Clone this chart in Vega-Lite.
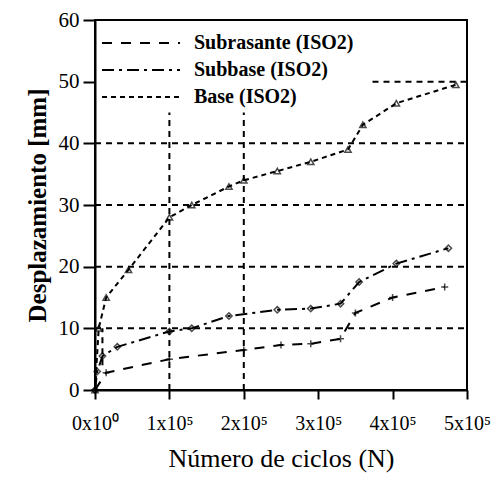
{
  "$schema": "https://vega.github.io/schema/vega-lite/v6.json",
  "autosize": "none",
  "width": 372,
  "height": 370,
  "padding": {"left": 95, "top": 20, "right": 35, "bottom": 90},
  "background": "white",
  "config": {
    "font": "Liberation Serif",
    "view": {"stroke": "black", "strokeWidth": 2},
    "axis": {"labelFont": "Liberation Serif", "titleFont": "Liberation Serif", "labelColor": "black", "titleColor": "black", "domainColor": "black", "tickColor": "black", "domainWidth": 2, "tickWidth": 2, "grid": false}
  },
  "datasets": {
    "series": [
      {"s": "Subrasante (ISO2)", "x": 0, "y": 0},
      {"s": "Subrasante (ISO2)", "x": 15000, "y": 2.8},
      {"s": "Subrasante (ISO2)", "x": 100000, "y": 5},
      {"s": "Subrasante (ISO2)", "x": 200000, "y": 6.5},
      {"s": "Subrasante (ISO2)", "x": 250000, "y": 7.3},
      {"s": "Subrasante (ISO2)", "x": 290000, "y": 7.5},
      {"s": "Subrasante (ISO2)", "x": 330000, "y": 8.3},
      {"s": "Subrasante (ISO2)", "x": 350000, "y": 12.5},
      {"s": "Subrasante (ISO2)", "x": 400000, "y": 15},
      {"s": "Subrasante (ISO2)", "x": 470000, "y": 16.7},
      {"s": "Subbase (ISO2)", "x": 0, "y": 0},
      {"s": "Subbase (ISO2)", "x": 3000, "y": 3},
      {"s": "Subbase (ISO2)", "x": 10000, "y": 5.5},
      {"s": "Subbase (ISO2)", "x": 30000, "y": 7},
      {"s": "Subbase (ISO2)", "x": 100000, "y": 9.5},
      {"s": "Subbase (ISO2)", "x": 130000, "y": 10},
      {"s": "Subbase (ISO2)", "x": 180000, "y": 12},
      {"s": "Subbase (ISO2)", "x": 245000, "y": 13},
      {"s": "Subbase (ISO2)", "x": 290000, "y": 13.2},
      {"s": "Subbase (ISO2)", "x": 330000, "y": 14},
      {"s": "Subbase (ISO2)", "x": 355000, "y": 17.5},
      {"s": "Subbase (ISO2)", "x": 405000, "y": 20.5},
      {"s": "Subbase (ISO2)", "x": 475000, "y": 23},
      {"s": "Base (ISO2)", "x": 0, "y": 0},
      {"s": "Base (ISO2)", "x": 5000, "y": 10},
      {"s": "Base (ISO2)", "x": 15000, "y": 15},
      {"s": "Base (ISO2)", "x": 45000, "y": 19.5},
      {"s": "Base (ISO2)", "x": 100000, "y": 28},
      {"s": "Base (ISO2)", "x": 130000, "y": 30},
      {"s": "Base (ISO2)", "x": 180000, "y": 33},
      {"s": "Base (ISO2)", "x": 200000, "y": 34},
      {"s": "Base (ISO2)", "x": 245000, "y": 35.5},
      {"s": "Base (ISO2)", "x": 290000, "y": 37},
      {"s": "Base (ISO2)", "x": 340000, "y": 39},
      {"s": "Base (ISO2)", "x": 360000, "y": 43},
      {"s": "Base (ISO2)", "x": 405000, "y": 46.5},
      {"s": "Base (ISO2)", "x": 485000, "y": 49.5}
    ],
    "grid": [
      {"x": 0, "x2": 500000, "y": 10, "y2": 10},
      {"x": 0, "x2": 500000, "y": 20, "y2": 20},
      {"x": 0, "x2": 500000, "y": 30, "y2": 30},
      {"x": 0, "x2": 500000, "y": 40, "y2": 40},
      {"x": 373000, "x2": 500000, "y": 50, "y2": 50},
      {"x": 100000, "x2": 100000, "y": 0, "y2": 45},
      {"x": 200000, "x2": 200000, "y": 0, "y2": 45},
      {"x": 10000, "x2": 10000, "y": 4, "y2": 10}
    ]
  },
  "layer": [
    {
      "data": {"name": "grid"},
      "mark": {"type": "rule", "color": "black", "strokeWidth": 2, "strokeDash": [6, 5]},
      "encoding": {
        "x": {"field": "x", "type": "quantitative", "scale": {"domain": [0, 500000]}},
        "x2": {"field": "x2"},
        "y": {"field": "y", "type": "quantitative", "scale": {"domain": [0, 60]}},
        "y2": {"field": "y2"}
      }
    },
    {
      "data": {"name": "series"},
      "mark": {"type": "line", "color": "black", "strokeWidth": 2},
      "encoding": {
        "x": {
          "field": "x", "type": "quantitative",
          "scale": {"domain": [0, 500000], "nice": false},
          "axis": {
            "values": [0, 50000, 100000, 150000, 200000, 250000, 300000, 350000, 400000, 450000, 500000],
            "labelExpr": "datum.value == 0 ? '0x10⁰' : (datum.value % 100000 == 0 ? (datum.value/100000) + 'x10⁵' : '')",
            "labelFontSize": 20, "labelPadding": 14, "tickSize": 9, "labelFlush": false, "labelOverlap": false,
            "title": "Número de ciclos (N)", "titleFontSize": 26, "titleFontWeight": "normal", "titlePadding": 12
          }
        },
        "y": {
          "field": "y", "type": "quantitative",
          "scale": {"domain": [0, 60], "nice": false},
          "axis": {
            "values": [0, 5, 10, 15, 20, 25, 30, 35, 40, 45, 50, 55, 60],
            "labelExpr": "datum.value % 10 == 0 ? datum.label : ''",
            "labelFontSize": 21, "labelPadding": 4, "tickSize": 12, "labelFlush": false,
            "title": "Desplazamiento [mm]", "titleFontSize": 25, "titleFontWeight": "bold", "titlePadding": 8
          }
        },
        "strokeDash": {
          "field": "s", "type": "nominal",
          "scale": {"domain": ["Subrasante (ISO2)", "Subbase (ISO2)", "Base (ISO2)"], "range": [[10, 9], [12, 5, 3, 5], [5, 4]]},
          "legend": {
            "orient": "none", "legendX": 32, "legendY": 9, "title": null, "padding": 0,
            "symbolType": "M-3,0H3", "symbolSize": 676, "symbolStrokeWidth": 2, "symbolStrokeColor": "black",
            "labelFont": "Liberation Serif", "labelFontSize": 20, "labelFontWeight": "bold", "labelColor": "black", "labelLimit": 0, "rowPadding": 3, "labelOffset": 39
          }
        }
      }
    },
    {
      "data": {"name": "series"},
      "transform": [{"filter": "datum.s == 'Subrasante (ISO2)'"}],
      "mark": {"type": "point", "color": "black", "filled": false, "strokeWidth": 1.5, "size": 50, "shape": "M0,-1V1M-1,0H1"},
      "encoding": {
        "x": {"field": "x", "type": "quantitative"},
        "y": {"field": "y", "type": "quantitative"}
      }
    },
    {
      "data": {"name": "series"},
      "transform": [{"filter": "datum.s == 'Subbase (ISO2)'"}],
      "mark": {"type": "point", "color": "black", "filled": false, "strokeWidth": 1.5, "size": 40, "shape": "diamond"},
      "encoding": {
        "x": {"field": "x", "type": "quantitative"},
        "y": {"field": "y", "type": "quantitative"}
      }
    },
    {
      "data": {"name": "series"},
      "transform": [{"filter": "datum.s == 'Base (ISO2)'"}],
      "mark": {"type": "point", "color": "black", "filled": false, "strokeWidth": 1.5, "size": 40, "shape": "triangle-up"},
      "encoding": {
        "x": {"field": "x", "type": "quantitative"},
        "y": {"field": "y", "type": "quantitative"}
      }
    }
  ]
}
